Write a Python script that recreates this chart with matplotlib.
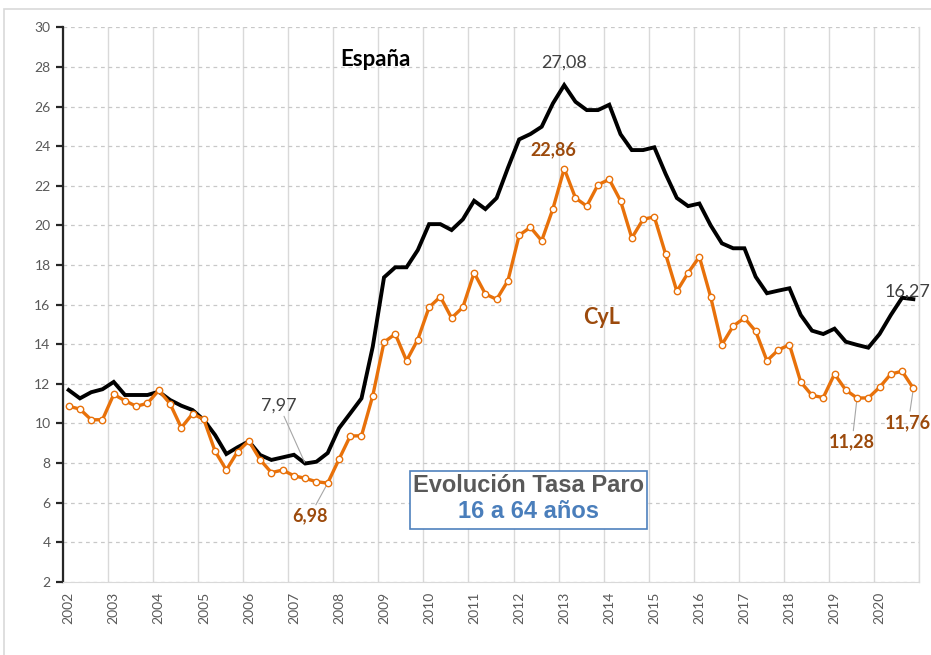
import matplotlib
matplotlib.use("Agg")
import matplotlib.pyplot as plt
from matplotlib.patches import Rectangle

plt.rcParams['font.family'] = ['Lato', 'DejaVu Sans']

# datos trimestrales 2002T1 - 2020T4, tasa de paro 16 a 64 años
years = list(range(2002, 2021))
espana = [11.68, 11.26, 11.57, 11.72, 12.09, 11.43, 11.43, 11.43,
          11.60, 11.18, 10.89, 10.67, 10.17, 9.41, 8.45, 8.79,
          9.09, 8.40, 8.15, 8.28, 8.41, 7.97, 8.06, 8.50,
          9.75, 10.50, 11.26, 13.87, 17.37, 17.88, 17.88, 18.75,
          20.06, 20.06, 19.76, 20.30, 21.24, 20.82, 21.38, 22.90,
          24.34, 24.61, 24.98, 26.16, 27.08, 26.24, 25.82, 25.82,
          26.09, 24.60, 23.80, 23.80, 23.94, 22.60, 21.38, 20.97,
          21.10, 20.00, 19.09, 18.84, 18.84, 17.40, 16.57, 16.70,
          16.82, 15.47, 14.68, 14.51, 14.78, 14.12, 13.96, 13.82,
          14.51, 15.47, 16.34, 16.27]
cyl = [10.86, 10.72, 10.18, 10.18, 11.46, 11.14, 10.86, 11.01,
       11.67, 10.99, 9.78, 10.48, 10.20, 8.59, 7.64, 8.57,
       9.11, 8.16, 7.51, 7.64, 7.35, 7.22, 7.05, 6.98,
       8.18, 9.36, 9.37, 11.39, 14.10, 14.51, 13.16, 14.23,
       15.86, 16.39, 15.32, 15.86, 17.60, 16.53, 16.26, 17.20,
       19.50, 19.90, 19.22, 20.84, 22.86, 21.38, 20.97, 22.05,
       22.32, 21.24, 19.36, 20.30, 20.43, 18.55, 16.67, 17.60,
       18.41, 16.39, 13.97, 14.91, 15.32, 14.65, 13.16, 13.70,
       13.97, 12.09, 11.41, 11.30, 12.49, 11.68, 11.28, 11.28,
       11.82, 12.49, 12.63, 11.76]

# etiquetas: (indice, desplazamiento en pixeles, con guia)
etiq_espana = [(21, (-26, 58), True), (44, (0, 23), False), (75, (-6, 8), False)]
etiq_cyl = [(44, (-11, 19), False), (23, (-18, -33), True),
            (70, (-5, -44), True), (75, (-5, -34), True)]

negro = '#000000'
naranja = '#E8710A'
marron = '#9C4A0C'
gris = '#595959'

fig = plt.figure(figsize=(9.31, 6.55), dpi=100)
ax = fig.add_axes([0.0677, 0.1119, 0.9194, 0.8464])

x = list(range(len(espana)))
ax.plot(x, espana, color=negro, lw=2.8, zorder=3, solid_joinstyle='miter')
ax.plot(x, cyl, color=naranja, lw=2.4, marker='o', ms=4.6, mfc='white',
        mec=naranja, mew=1.0, zorder=4)

ax.set_xlim(-0.5, len(x) - 0.5)
ax.set_ylim(2, 30)
ax.set_yticks(range(2, 31, 2))
ax.set_xticks(range(0, len(x), 4))
ax.set_xticklabels([str(y) for y in years], rotation=90)
ax.set_xticks([k - 0.5 for k in range(0, len(x) + 1, 4)], minor=True)

ax.grid(which='minor', axis='x', color='#D9D9D9', lw=1.0)
ax.grid(which='major', axis='y', color='#C8C8C8', lw=0.9, linestyle=(0, (3, 3)))
ax.set_axisbelow(True)

ax.tick_params(axis='y', which='major', length=5, width=1.6, color='#262626',
               labelsize=10, labelcolor=gris, pad=4)
ax.tick_params(axis='x', which='both', length=0, labelsize=10,
               labelcolor=gris, pad=7)
ax.spines['left'].set_color('#262626')
ax.spines['left'].set_linewidth(1.6)
ax.spines['bottom'].set_color('#D9D9D9')
ax.spines['right'].set_color('#D9D9D9')
ax.spines['right'].set_linewidth(1.0)
ax.spines['top'].set_visible(False)

for i, off, guia in etiq_espana:
    ax.annotate(f"{espana[i]:.2f}".replace('.', ','), xy=(i, espana[i]),
                xytext=off, textcoords='offset pixels', ha='center', va='center',
                fontsize=13, color='#404040', annotation_clip=False,
                arrowprops=dict(arrowstyle='-', color='#A6A6A6', lw=0.8,
                                shrinkA=0, shrinkB=1) if guia else None)

for i, off, guia in etiq_cyl:
    ax.annotate(f"{cyl[i]:.2f}".replace('.', ','), xy=(i, cyl[i]),
                xytext=off, textcoords='offset pixels', ha='center', va='center',
                fontsize=13, fontweight='bold', color=marron, annotation_clip=False,
                arrowprops=dict(arrowstyle='-', color='#A6A6A6', lw=0.8,
                                shrinkA=0, shrinkB=1) if guia else None)

fig.text(0.4028, 0.9084, 'España', ha='center', va='center', fontsize=16,
         fontweight='bold', color=negro)
fig.text(0.6466, 0.5160, 'CyL', ha='center', va='center', fontsize=15.5,
         fontweight='bold', color=marron)

# cuadro de titulo
fig.add_artist(Rectangle((0.4404, 0.1924), 0.2546, 0.0885, transform=fig.transFigure,
                         facecolor='white', edgecolor='#4F81BD', lw=1.2, zorder=5))
fig.text(0.5677, 1 - 485 / 655, 'Evolución Tasa Paro', ha='center', va='center',
         fontsize=17, fontweight='bold', color=gris, family='Liberation Sans', zorder=6)
fig.text(0.5677, 1 - 512 / 655, '16 a 64 años', ha='center', va='center',
         fontsize=17, fontweight='bold', color='#4A7EBB', family='Liberation Sans', zorder=6)

# borde del grafico
fig.add_artist(Rectangle((4 / 931, -0.01), 1.0, 1 - 9 / 655 + 0.01,
                         transform=fig.transFigure, fill=False,
                         edgecolor='#D9D9D9', lw=1.2))

fig.savefig('out.png', dpi=100)
